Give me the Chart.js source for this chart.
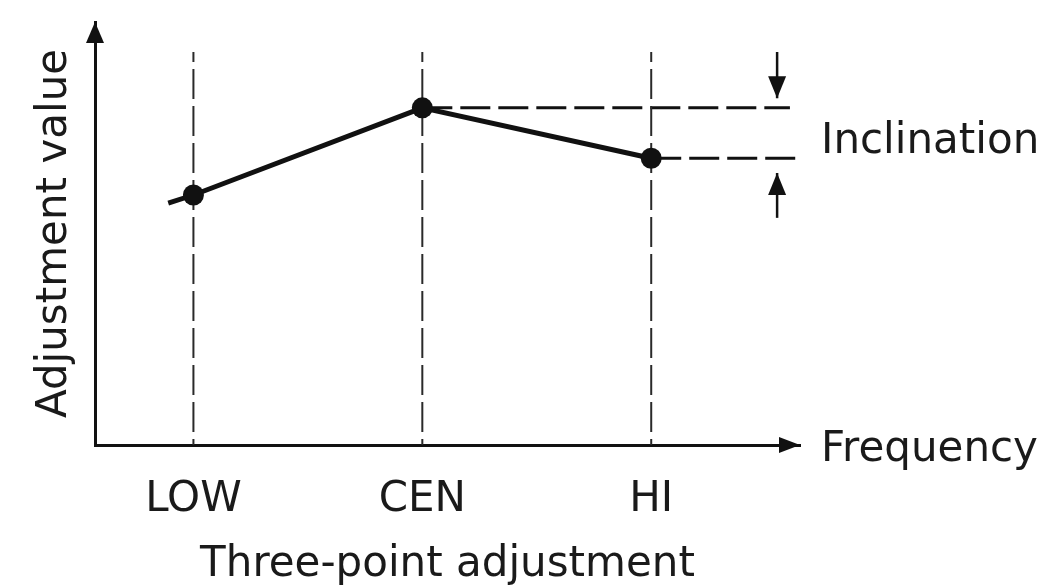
<!DOCTYPE html>
<html>
<head>
<meta charset="utf-8">
<script src="https://cdn.jsdelivr.net/npm/chart.js@4.4.1/dist/chart.umd.min.js"></script>
<style>
  html, body { margin: 0; padding: 0; background: #ffffff; }
  #wrap { width: 1062px; height: 588px; }
</style>
</head>
<body>
<div id="wrap"><canvas id="c" width="1062" height="588"></canvas></div>
<script>
// ---- data ----
const categories = ['LOW', 'CEN', 'HI'];
const categoryX = [1, 2, 3];
const lineX = [0.89, 1, 2, 3];          // first point is the short lead-in stub
const lineY = [5.72, 5.91, 7.97, 6.78];
const guideTop = 9.29;                   // top of vertical dashed guides
const levelEnds = [3.606, 3.65];         // right ends of the CEN / HI level lines
const arrowX = 3.55;
const downArrow = [9.29, 8.20];          // from, to (tip)
const upArrow = [5.37, 6.43];            // from, to (tip)
const xTitle = 'Three-point adjustment';
const yTitle = 'Adjustment value';
const xEndLabel = 'Frequency';
const inclLabel = 'Inclination';

const FONT = '"DejaVu Sans", sans-serif';
const INK = '#111111';
const TEXT = '#1a1a1a';

const datasets = [];
datasets.push({
  data: lineX.map((x, i) => ({x, y: lineY[i]})),
  borderColor: INK, borderWidth: 5, backgroundColor: INK,
  pointRadius: lineX.map((x, i) => i === 0 ? 0 : 10.5),
  pointBackgroundColor: INK, pointBorderWidth: 0,
  tension: 0, clip: false
});
categoryX.forEach(x => {
  datasets.push({
    data: [{x, y: guideTop}, {x, y: 0}],
    borderColor: '#2a2a2a', borderWidth: 2, borderDash: [30, 7], borderDashOffset: 20,
    pointRadius: 0, clip: false
  });
});
// level lines from CEN and HI
[1, 2].forEach((idx, k) => {
  datasets.push({
    data: [{x: categoryX[idx], y: lineY[idx + 1]}, {x: levelEnds[k], y: lineY[idx + 1]}],
    borderColor: INK, borderWidth: 3, borderDash: [30, 8],
    pointRadius: 0, clip: false
  });
});
// inclination arrow shafts
[downArrow, upArrow].forEach(a => {
  datasets.push({
    data: [{x: arrowX, y: a[0]}, {x: arrowX, y: a[1]}],
    borderColor: INK, borderWidth: 2.5, pointRadius: 0, clip: false
  });
});

function head(ctx, tx, ty, dir, len, half) {
  ctx.beginPath();
  if (dir === 'up') { ctx.moveTo(tx, ty); ctx.lineTo(tx - half, ty + len); ctx.lineTo(tx + half, ty + len); }
  if (dir === 'down') { ctx.moveTo(tx, ty); ctx.lineTo(tx - half, ty - len); ctx.lineTo(tx + half, ty - len); }
  if (dir === 'right') { ctx.moveTo(tx, ty); ctx.lineTo(tx - len, ty - half); ctx.lineTo(tx - len, ty + half); }
  ctx.closePath();
  ctx.fill();
}

const extras = {
  id: 'extras',
  afterDatasetsDraw(chart) {
    const {ctx, chartArea: a, scales: {x, y}} = chart;
    ctx.save();
    ctx.fillStyle = INK;
    // axis arrowheads
    head(ctx, a.left, a.top, 'up', 21, 9);
    head(ctx, a.right, a.bottom, 'right', 21, 8);
    // inclination arrowheads
    head(ctx, x.getPixelForValue(arrowX), y.getPixelForValue(downArrow[1]), 'down', 22, 9);
    head(ctx, x.getPixelForValue(arrowX), y.getPixelForValue(upArrow[1]), 'up', 22, 9);
    // labels
    ctx.font = '42px ' + FONT;
    ctx.fillStyle = TEXT;
    ctx.textAlign = 'left';
    ctx.textBaseline = 'middle';
    ctx.fillText(inclLabel, a.right + 21, (y.getPixelForValue(lineY[2]) + y.getPixelForValue(lineY[3])) / 2 + 9);
    ctx.fillText(xEndLabel, a.right + 21, a.bottom + 5);
    ctx.restore();
  }
};

new Chart(document.getElementById('c'), {
  type: 'line',
  data: { datasets },
  plugins: [extras],
  options: {
    responsive: false, animation: false, devicePixelRatio: 1,
    layout: { padding: { left: 0, right: 262, top: 22, bottom: 0 } },
    plugins: { legend: { display: false }, tooltip: { enabled: false } },
    scales: {
      x: {
        type: 'linear', min: 0.57, max: 3.65,
        grid: { display: false, drawTicks: false },
        border: { display: true, color: INK, width: 3 },
        afterBuildTicks: s => { s.ticks = categoryX.map(v => ({value: v})); },
        afterFit: s => { s.height = 143; },
        ticks: {
          autoSkip: false, maxRotation: 0, padding: 30, color: TEXT,
          font: { family: FONT, size: 42 },
          callback: v => { const i = categoryX.indexOf(v); return i >= 0 ? categories[i] : ''; }
        },
        title: { display: true, text: xTitle, color: TEXT, font: { family: FONT, size: 42 }, padding: { top: 0, bottom: -2 } }
      },
      y: {
        min: 0, max: 10,
        grid: { display: false, drawTicks: false },
        border: { display: true, color: INK, width: 3 },
        afterFit: s => { s.width = 95; },
        ticks: { display: false },
        title: { display: true, text: yTitle, color: TEXT, font: { family: FONT, size: 42 }, padding: { top: 30, bottom: 0 } }
      }
    }
  }
});
</script>
</body>
</html>
